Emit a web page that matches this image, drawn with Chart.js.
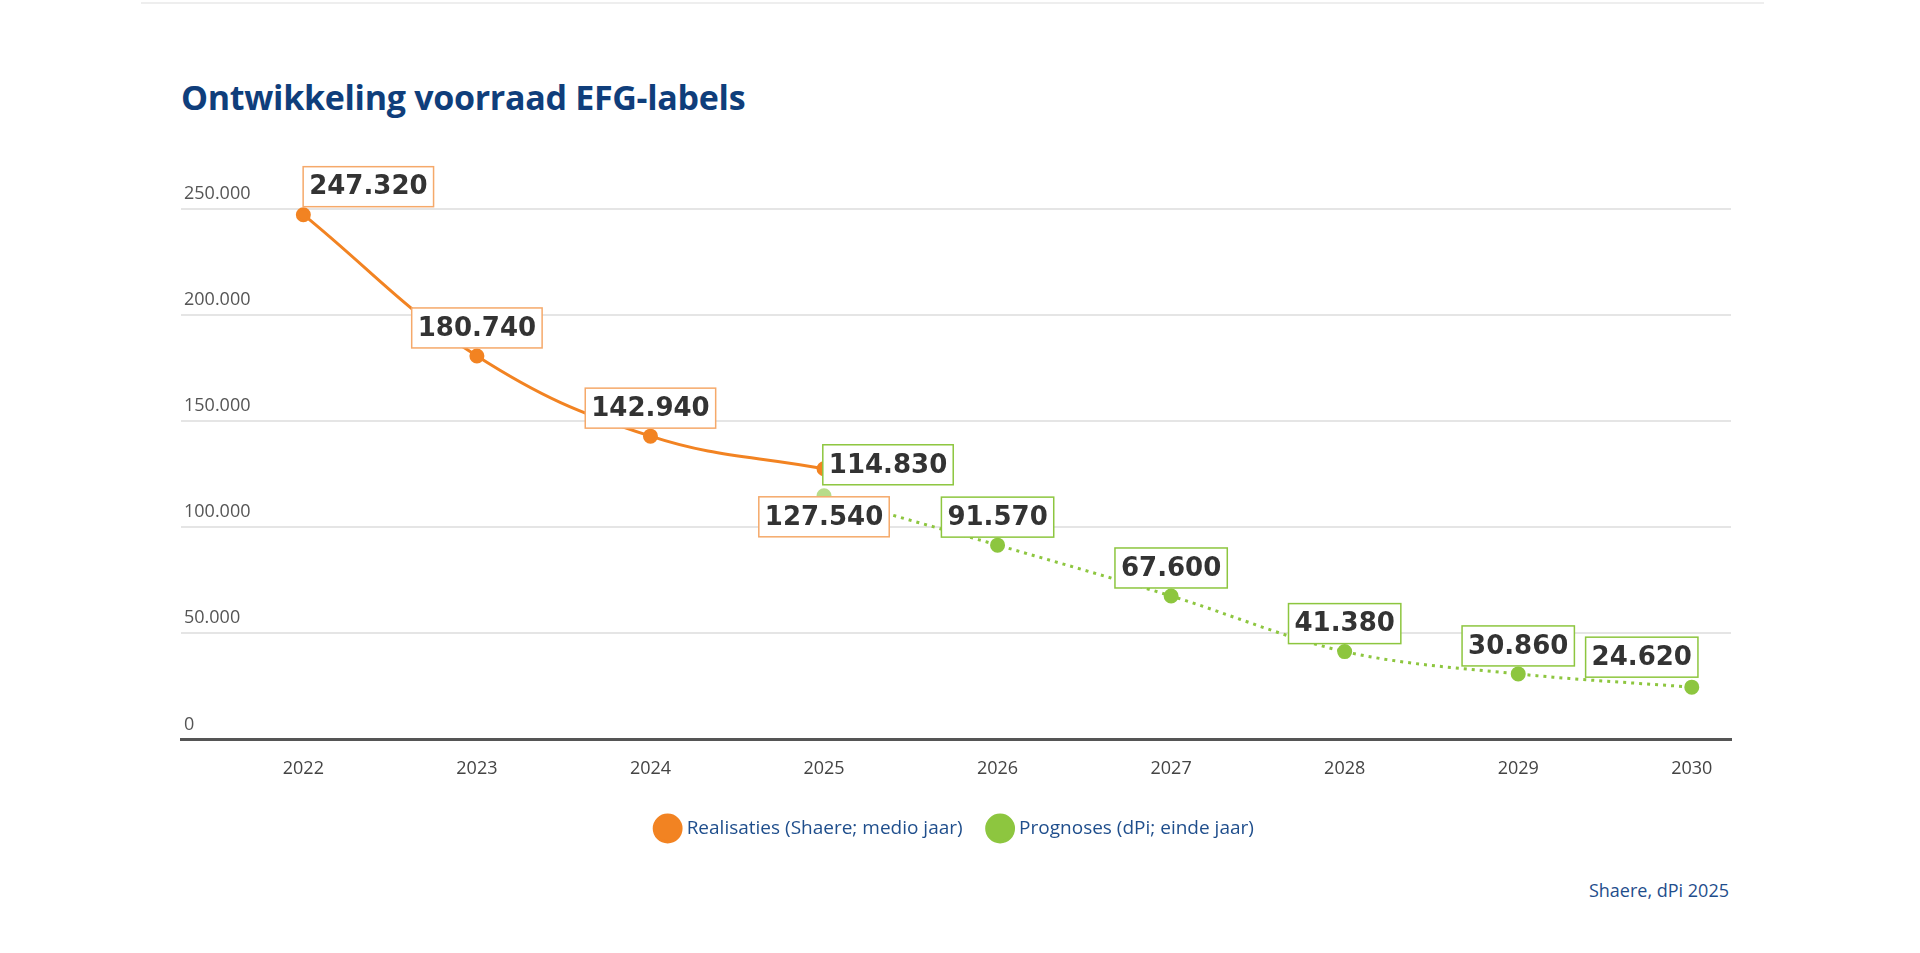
<!DOCTYPE html>
<html><head><meta charset="utf-8">
<script src="https://cdn.jsdelivr.net/npm/chart.js@4"></script>
<style>
body{margin:0;background:#fff;font-family:"Open Sans","Noto Sans",sans-serif;}
#top{position:absolute;left:141px;top:2px;width:1623px;border-top:2px solid #eee;}
#title{position:absolute;left:181px;top:74px;font:bold 34px "Open Sans",sans-serif;color:#0f3e7b;letter-spacing:-0.3px;}
#src{position:absolute;right:191px;top:878px;font:18px "Open Sans",sans-serif;color:#1f4e8c;}
canvas{position:absolute;left:0;top:0;}
</style></head><body>
<div id="top"></div>
<div id="title">Ontwikkeling voorraad EFG-labels</div>
<div id="src">Shaere, dPi 2025</div>
<canvas id="c" width="1920" height="848"></canvas>
<script>
const years=[2022,2023,2024,2025,2026,2027,2028,2029,2030];
const realisaties=[247320,180740,142940,127540,null,null,null,null,null];
const prognoses=[null,null,null,114830,91570,67600,41380,30860,24620];
const yTicks=[0,50000,100000,150000,200000,250000];
const ORANGE='#f28322',GREEN='#8dc63f';
const fmt=v=>v.toLocaleString('nl-NL');
const offR=[[65,-28],[0,-28],[0,-28],[0,48]];
const offP={3:[64,-31],4:[0,-28],5:[0,-28],6:[0,-28],7:[0,-28],8:[-50,-30]};
const labelPlugin={id:'lbl',afterDatasetsDraw(ch){
 const c=ch.ctx;c.save();c.font='bold 26px "DejaVu Sans",sans-serif';c.textAlign='center';c.textBaseline='middle';
 const draw=(meta,vals,i,off,col)=>{const p=meta.data[i];const t=fmt(vals[i]);const w=c.measureText(t).width+12,h=40;
  const x=p.x+off[0],y=p.y+off[1];c.fillStyle='#fff';c.fillRect(x-w/2,y-h/2,w,h);c.strokeStyle=col;c.lineWidth=1.5;c.strokeRect(x-w/2,y-h/2,w,h);
  c.fillStyle='#333';c.fillText(t,x,y+1);};
 const m0=ch.getDatasetMeta(0),m1=ch.getDatasetMeta(1);
 realisaties.forEach((v,i)=>{if(v!=null)draw(m0,realisaties,i,offR[i],'#f5a96a');});
 prognoses.forEach((v,i)=>{if(v!=null)draw(m1,prognoses,i,offP[i],GREEN);});
 c.restore();}};
const yLab={id:'ylab',afterDraw(ch){const c=ch.ctx,s=ch.scales.y;c.save();c.font='18px "Open Sans",sans-serif';c.fillStyle='#555';c.textAlign='left';c.textBaseline='bottom';
 yTicks.forEach(v=>c.fillText(fmt(v),ch.chartArea.left+3,s.getPixelForValue(v)-6));c.restore();}};
new Chart(document.getElementById('c'),{type:'line',
 data:{labels:years,datasets:[
  {label:'Realisaties (Shaere; medio jaar)',data:years.map((x,i)=>({x,y:realisaties[i]})),borderColor:ORANGE,backgroundColor:ORANGE,borderWidth:3,pointRadius:6,pointHoverRadius:6,tension:0.4},
  {label:'Prognoses (dPi; einde jaar)',data:years.map((x,i)=>({x,y:prognoses[i]})),borderColor:GREEN,backgroundColor:GREEN,borderWidth:3,borderDash:[3,5],pointRadius:6,pointBackgroundColor:years.map(y=>y===2025?'#b8dc8a':GREEN),pointBorderColor:years.map(y=>y===2025?'#b8dc8a':GREEN),cubicInterpolationMode:'monotone'}]},
 options:{responsive:false,animation:false,clip:false,spanGaps:false,
  layout:{padding:{left:181,right:189,top:209}},
  plugins:{tooltip:{enabled:false},legend:{position:'bottom',labels:{usePointStyle:true,pointStyle:'circle',boxWidth:20,boxHeight:20,padding:28,color:'#1f4e8c',font:{size:19,family:'"Open Sans",sans-serif'}}}},
  scales:{x:{type:'linear',min:2021.295,max:2030.226,afterBuildTicks:a=>{a.ticks=years.map(v=>({value:v}));},
    grid:{display:false},border:{color:'#555',width:3},
    ticks:{color:'#444',padding:11,font:{size:18,family:'"Open Sans",sans-serif'},callback:v=>String(v)}},
   y:{min:0,max:250000,display:true,afterBuildTicks:a=>{a.ticks=yTicks.map(v=>({value:v}));},
    ticks:{display:false},border:{display:false},grid:{color:'#e5e5e5',lineWidth:2,drawTicks:false}}}},
 plugins:[labelPlugin,yLab]});
</script></body></html>
